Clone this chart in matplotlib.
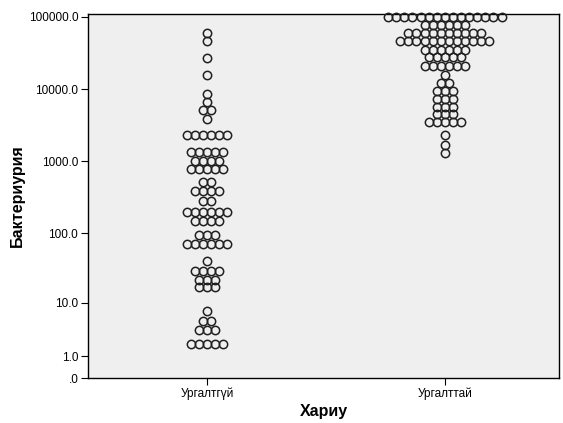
import numpy as np
import matplotlib
matplotlib.use("Agg")
import matplotlib.pyplot as plt

plt.rcParams['font.family'] = ['Liberation Sans', 'DejaVu Sans']

categories = ["Ургалтгүй", "Ургалттай"]

# Binned dot rows: value of bin and number of dots in that row
left_values = [60000, 47000, 27000, 15500, 8500, 6600, 5100, 3800, 2300, 1330,
               1000, 775, 515, 385, 280, 200, 147, 93, 70, 41, 29, 22, 17,
               7.5, 5.2, 3.6, 2.0]
left_counts = [1, 1, 1, 1, 1, 1, 2, 1, 6, 5,
               4, 5, 2, 4, 2, 6, 4, 3, 6, 1, 4, 3, 3,
               1, 2, 3, 5]

right_values = [100000, 78000, 60000, 47000, 35000, 27500, 21000, 15500, 12000,
                9400, 7300, 5600, 4500, 3500, 2300, 1670, 1290]
right_counts = [15, 6, 10, 12, 6, 5, 6, 1, 2,
                3, 3, 3, 3, 5, 1, 1, 1]

y_ticks = [0, 1, 10, 100, 1000, 10000, 100000]
y_ticklabels = [".0", "1.0", "10.0", "100.0", "1000.0", "10000.0", "100000.0"]

W, H, DPI = 5.63, 4.23, 100
fig = plt.figure(figsize=(W, H), dpi=DPI)
ax_left, ax_right, ax_bottom, ax_top = 88/563, 559/563, 1-378/423, 1-14/423
ax = fig.add_axes([ax_left, ax_bottom, ax_right-ax_left, ax_top-ax_bottom])
ax.set_facecolor('#EFEFEF')

def fwd(x):
    x = np.asarray(x, dtype=float)
    return np.log10(np.clip(x, 0, None) + 1)

def inv(y):
    return 10**np.asarray(y, dtype=float) - 1

ax.set_yscale('function', functions=(fwd, inv))
xlim = (-0.5, 1.48)
ax.set_xlim(*xlim)
ax.set_ylim(0, 10**5.04 - 1)

axes_w_px = (ax_right - ax_left) * W * DPI
step = 8.1 / (axes_w_px / (xlim[1] - xlim[0]))

for ci, (vals, cnts) in enumerate([(left_values, left_counts), (right_values, right_counts)]):
    xs, ys = [], []
    for v, n in zip(vals, cnts):
        for i in range(n):
            xs.append(ci + (i - (n - 1) / 2) * step)
            ys.append(v)
    ax.plot(xs, ys, linestyle='none', marker='o', ms=6.0, mfc='none',
            mec='#202020', mew=1.1, clip_on=False, zorder=3)

ax.set_xticks([0, 1])
ax.set_xticklabels(categories, fontsize=8.5)
ax.set_yticks(y_ticks)
ax.set_yticklabels(y_ticklabels, fontsize=8.5)
ax.yaxis.set_minor_locator(matplotlib.ticker.NullLocator())
ax.tick_params(axis='both', direction='out', length=5, width=0.8, color='black', pad=2)

for s in ax.spines.values():
    s.set_color('black')
    s.set_linewidth(1.0)

ax.set_ylabel("Бактериурия", fontsize=11.5, fontweight='bold', labelpad=3)
ax.set_xlabel("Хариу", fontsize=11.5, fontweight='bold', labelpad=3)

fig.savefig("out.png", dpi=DPI)
